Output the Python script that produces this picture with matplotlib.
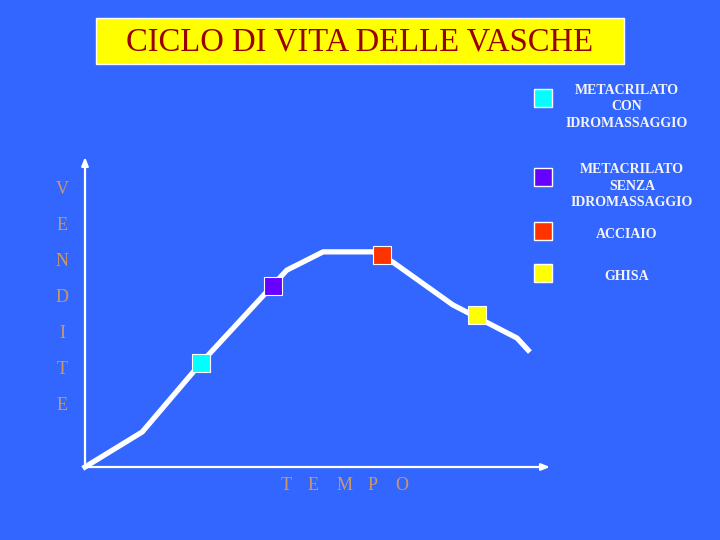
import matplotlib
matplotlib.use("Agg")
import matplotlib.pyplot as plt
from matplotlib.patches import Rectangle

# curva del ciclo di vita (tempo, vendite)
tempo = [0.0, 1.23, 2.49, 4.34, 5.12, 6.19, 6.62, 7.91, 9.29, 9.53]
vendite = [0.0, 1.13, 3.35, 6.35, 6.94, 6.94, 6.61, 5.23, 4.16, 3.77]

# posizione delle vasche sulla curva
vasche = ["METACRILATO\nCON\nIDROMASSAGGIO",
          "METACRILATO\nSENZA\nIDROMASSAGGIO",
          "ACCIAIO",
          "GHISA"]
vasche_t = [2.49, 4.04, 6.39, 8.43]
vasche_v = [3.35, 5.84, 6.84, 4.90]
colori = ["#00FFFF", "#6600FF", "#FF3300", "#FFFF00"]

bg = "#3366FF"
tan = "#CC9966"
serif = ["Liberation Serif", "DejaVu Serif"]

fig = plt.figure(figsize=(7.2, 5.4), dpi=100, facecolor=bg)

# pannello di decorazione in coordinate pixel
deco = fig.add_axes([0, 0, 1, 1])
deco.set_xlim(0, 720)
deco.set_ylim(540, 0)
deco.axis("off")

# titolo
deco.add_patch(Rectangle((96, 18), 528, 46, facecolor="#FFFF00",
                         edgecolor="white", linewidth=1))
deco.text(360, 42, "CICLO DI VITA DELLE VASCHE", ha="center", va="center",
          color="#990000", fontsize=23.5, family=serif)

# legenda
leg_y = [98, 177, 231, 273]
txt_y = [107, 186, 234, 276]
txt_x = [627, 632, 627, 627]
for i in range(len(vasche)):
    deco.add_patch(Rectangle((534, leg_y[i] - 9), 18, 18, facecolor=colori[i],
                             edgecolor="white", linewidth=1))
    deco.text(txt_x[i], txt_y[i], vasche[i], ha="center", va="center",
              color="#F4F4F4", fontsize=10, fontweight="bold", family=serif,
              linespacing=1.38)

# etichette assi
for i, ch in enumerate("VENDITE"):
    deco.text(62, 190 + i * 36, ch, ha="center", va="center", color=tan,
              fontsize=13, family=serif)
tempo_x = [286, 313, 345, 373, 402]
for ch, x in zip("TEMPO", tempo_x):
    deco.text(x, 485, ch, ha="center", va="center", color=tan,
              fontsize=13, family=serif)

# grafico
ax = fig.add_axes([85 / 720, 73 / 540, 465 / 720, 310 / 540])
ax.set_facecolor("none")
ax.set_xlim(0, 10)
ax.set_ylim(0, 10)
for s in ax.spines.values():
    s.set_visible(False)
ax.set_xticks([])
ax.set_yticks([])

arrow = dict(arrowstyle="-|>,head_length=0.5,head_width=0.2", color="white",
             lw=1.6, shrinkA=0, shrinkB=0)
ax.annotate("", xy=(1, 0), xytext=(0, 0), xycoords="axes fraction",
            arrowprops=arrow)
ax.annotate("", xy=(0, 1), xytext=(0, 0), xycoords="axes fraction",
            arrowprops=arrow)

ax.plot(tempo, vendite, color="white", lw=3.8, solid_joinstyle="round",
        clip_on=False)
for i in range(len(vasche)):
    ax.plot(vasche_t[i], vasche_v[i], marker="s", markersize=13,
            markerfacecolor=colori[i], markeredgecolor="white",
            markeredgewidth=0.8, clip_on=False)

fig.savefig("out.png", dpi=100, facecolor=bg)
